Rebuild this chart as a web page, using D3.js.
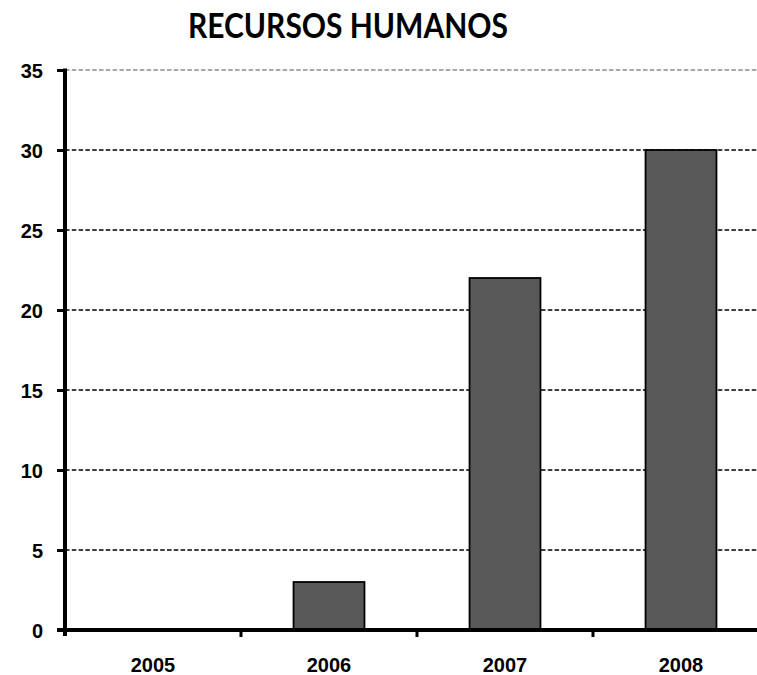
<!DOCTYPE html>
<html><head><meta charset="utf-8">
<script src="https://cdn.jsdelivr.net/npm/d3@7"></script>
<style>body{margin:0;background:#fff}svg{display:block}</style>
</head><body>
<svg id="c" width="757" height="675"></svg>
<script>
const categories = ["2005","2006","2007","2008"];
const values = [0, 3, 22, 30];
const yTicks = [0,5,10,15,20,25,30,35];
const title = "RECURSOS HUMANOS";

const svg = d3.select("#c");
const mLeft = 65, mTop = 70, mBottom = 630, bandW = 176;
const x = d3.scaleBand().domain(categories).range([mLeft, mLeft + bandW*categories.length]).paddingInner(0.597).paddingOuter(0.2985);
const y = d3.scaleLinear().domain([0,35]).range([mBottom, mTop]);
const labelFont = "Liberation Sans, Arial, sans-serif";

// gridlines
svg.append("g").selectAll("line").data(yTicks.filter(d=>d>0)).join("line")
  .attr("x1", mLeft).attr("x2", 757)
  .attr("y1", d=>y(d)).attr("y2", d=>y(d))
  .attr("stroke", d=> d===35 ? "#8c8c8c" : "#000")
  .attr("stroke-width", 1.6)
  .attr("stroke-dasharray", "4.5,2.3");

// bars
svg.append("g").selectAll("rect").data(values).join("rect")
  .attr("x", (d,i)=>x(categories[i]))
  .attr("width", x.bandwidth())
  .attr("y", d=>y(d))
  .attr("height", d=>mBottom - y(d))
  .attr("fill", "#595959")
  .attr("stroke", "#000")
  .attr("stroke-width", 1.8)
  .attr("display", d=> d>0 ? null : "none");

// y axis
const ya = svg.append("g").attr("transform", `translate(${mLeft},0)`)
  .call(d3.axisLeft(y).tickValues(yTicks).tickSize(8).tickPadding(14));
ya.select(".domain").remove();
ya.append("line").attr("x1",0).attr("x2",0).attr("y1",mTop-1.5).attr("y2",mBottom+6).attr("stroke","#000").attr("stroke-width",4);
ya.selectAll(".tick line").attr("stroke","#000").attr("stroke-width",3);
ya.selectAll(".tick text").attr("font-family",labelFont).attr("font-weight","bold").attr("font-size","20px").attr("fill","#000").attr("dy","0.36em");

// x axis
const xa = svg.append("g").attr("transform", `translate(0,${mBottom})`)
  .call(d3.axisBottom(x).tickSize(0).tickPadding(28));
xa.select(".domain").remove();
xa.append("line").attr("x1",mLeft-8).attr("x2",757).attr("y1",0).attr("y2",0).attr("stroke","#000").attr("stroke-width",4);
xa.selectAll(".tick text").attr("font-family",labelFont).attr("font-weight","bold").attr("font-size","20px").attr("fill","#000");
const boundaries = d3.range(1, categories.length).map(i => mLeft + i*bandW);
xa.append("g").selectAll("line").data(boundaries).join("line")
  .attr("x1", d=>d).attr("x2", d=>d).attr("y1",0).attr("y2",7)
  .attr("stroke","#000").attr("stroke-width",3);

// title
svg.append("text").attr("x", 348).attr("y", 38).attr("text-anchor","middle")
  .attr("font-family","Lato, DejaVu Sans, sans-serif")
  .attr("font-weight","bold")
  .attr("font-size","34px").attr("fill","#000")
  .attr("textLength", 320).attr("lengthAdjust","spacingAndGlyphs")
  .text(title);
</script>
</body></html>
